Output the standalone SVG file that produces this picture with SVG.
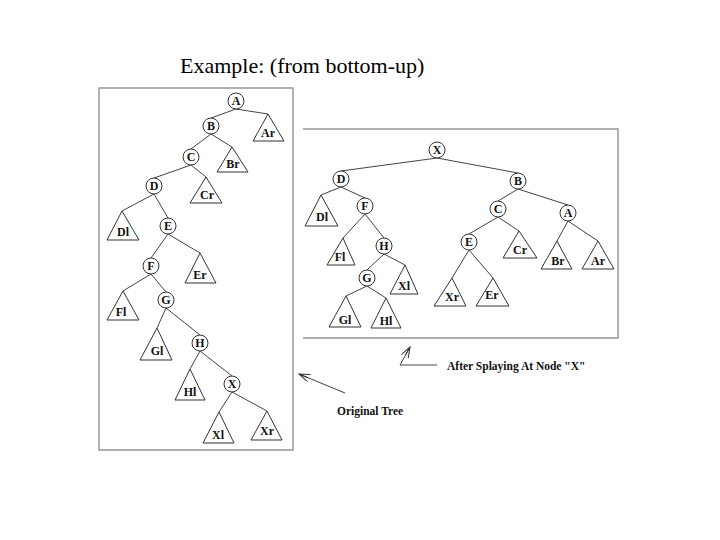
<svg xmlns="http://www.w3.org/2000/svg" width="720" height="540" viewBox="0 0 720 540">
<style>
.n circle{fill:#fff;stroke:#333;stroke-width:1}
.n text,.t text{font-family:"Liberation Serif",serif;font-weight:bold;font-size:12px;text-anchor:middle;fill:#111}
.t polygon{fill:#fff;stroke:#333;stroke-width:1}
#edges line{stroke:#444;stroke-width:1}
.frame{fill:none;stroke:#999;stroke-width:1.5}
.cap{font-family:"Liberation Serif",serif;font-weight:bold;font-size:11.5px;fill:#111}
</style>
<defs><marker id="ah" markerWidth="12" markerHeight="8" refX="11" refY="4" orient="auto" markerUnits="userSpaceOnUse"><path d="M0,0 L11,4 L0,8 M11,4 L2,4" fill="none" stroke="#333"/></marker></defs>
<rect width="720" height="540" fill="#fff"/>
<text x="180" y="73" style="font-family:'Liberation Serif','DejaVu Serif',serif;font-size:22px" fill="#000">Example: (from bottom-up)</text>
<rect class="frame" x="99" y="88" width="194" height="362"/>
<path class="frame" d="M303,129 H618 V338 H303"/>
<g id="edges">
<line x1="236" y1="109" x2="211" y2="118"/><line x1="236" y1="109" x2="268" y2="114"/>
<line x1="211" y1="134" x2="191" y2="149"/><line x1="211" y1="134" x2="232" y2="147"/>
<line x1="191" y1="165" x2="154" y2="178"/><line x1="191" y1="165" x2="206" y2="177"/>
<line x1="154" y1="194" x2="122" y2="211"/><line x1="154" y1="194" x2="168" y2="218"/>
<line x1="168" y1="234" x2="151" y2="258"/><line x1="168" y1="234" x2="200" y2="253"/>
<line x1="151" y1="274" x2="123" y2="291"/><line x1="151" y1="274" x2="166" y2="292"/>
<line x1="166" y1="308" x2="157" y2="328"/><line x1="166" y1="308" x2="200" y2="335"/>
<line x1="200" y1="351" x2="190" y2="369"/><line x1="200" y1="351" x2="232" y2="376"/>
<line x1="232" y1="392" x2="219" y2="412"/><line x1="232" y1="392" x2="267" y2="411"/>
<line x1="437" y1="158" x2="341" y2="171"/><line x1="437" y1="158" x2="518" y2="173"/>
<line x1="341" y1="187" x2="321" y2="195"/><line x1="341" y1="187" x2="365" y2="198"/>
<line x1="365" y1="214" x2="343" y2="238"/><line x1="365" y1="214" x2="384" y2="238"/>
<line x1="384" y1="254" x2="367" y2="270"/><line x1="384" y1="254" x2="405" y2="265"/>
<line x1="367" y1="286" x2="346" y2="296"/><line x1="367" y1="286" x2="386" y2="298"/>
<line x1="518" y1="189" x2="498" y2="201"/><line x1="518" y1="189" x2="568" y2="205"/>
<line x1="498" y1="217" x2="469" y2="234"/><line x1="498" y1="217" x2="519" y2="231"/>
<line x1="568" y1="221" x2="557" y2="241"/><line x1="568" y1="221" x2="598" y2="241"/>
<line x1="469" y1="250" x2="452" y2="278"/><line x1="469" y1="250" x2="493" y2="278"/>
<line x1="345" y1="393" x2="299" y2="374" marker-end="url(#ah)"/>
<line x1="437" y1="365" x2="400" y2="365"/><line x1="400" y1="365" x2="410" y2="347" marker-end="url(#ah)"/>
</g>
<g class="n" id="L-A"><circle cx="236" cy="101" r="8"/><text x="236" y="105">A</text></g>
<g class="n" id="L-B"><circle cx="211" cy="126" r="8"/><text x="211" y="130">B</text></g>
<g class="n" id="L-C"><circle cx="191" cy="157" r="8"/><text x="191" y="161">C</text></g>
<g class="n" id="L-D"><circle cx="154" cy="186" r="8"/><text x="154" y="190">D</text></g>
<g class="n" id="L-E"><circle cx="168" cy="226" r="8"/><text x="168" y="230">E</text></g>
<g class="n" id="L-F"><circle cx="151" cy="266" r="8"/><text x="151" y="270">F</text></g>
<g class="n" id="L-G"><circle cx="166" cy="300" r="8"/><text x="166" y="304">G</text></g>
<g class="n" id="L-H"><circle cx="200" cy="343" r="8"/><text x="200" y="347">H</text></g>
<g class="n" id="L-X"><circle cx="232" cy="384" r="8"/><text x="232" y="388">X</text></g>
<g class="t" id="L-Ar"><polygon points="268,114 253,141 284,141"/><text x="268" y="137">Ar</text></g>
<g class="t" id="L-Br"><polygon points="232,147 217,172 248,172"/><text x="233" y="168">Br</text></g>
<g class="t" id="L-Cr"><polygon points="206,177 190,203 222,203"/><text x="207" y="199">Cr</text></g>
<g class="t" id="L-Dl"><polygon points="122,211 107,240 139,240"/><text x="123" y="236">Dl</text></g>
<g class="t" id="L-Er"><polygon points="200,253 185,283 216,283"/><text x="200" y="279">Er</text></g>
<g class="t" id="L-Fl"><polygon points="123,291 107,320 139,320"/><text x="121" y="316">Fl</text></g>
<g class="t" id="L-Gl"><polygon points="157,328 140,360 172,360"/><text x="157" y="355">Gl</text></g>
<g class="t" id="L-Hl"><polygon points="190,369 175,400 205,400"/><text x="190" y="396">Hl</text></g>
<g class="t" id="L-Xl"><polygon points="219,412 203,443 234,443"/><text x="218" y="439">Xl</text></g>
<g class="t" id="L-Xr"><polygon points="267,411 251,440 282,440"/><text x="267" y="435">Xr</text></g>
<g class="n" id="R-X"><circle cx="437" cy="150" r="8"/><text x="437" y="154">X</text></g>
<g class="n" id="R-D"><circle cx="341" cy="179" r="8"/><text x="341" y="183">D</text></g>
<g class="n" id="R-B"><circle cx="518" cy="181" r="8"/><text x="518" y="185">B</text></g>
<g class="n" id="R-F"><circle cx="365" cy="206" r="8"/><text x="365" y="210">F</text></g>
<g class="n" id="R-H"><circle cx="384" cy="246" r="8"/><text x="384" y="250">H</text></g>
<g class="n" id="R-G"><circle cx="367" cy="278" r="8"/><text x="367" y="282">G</text></g>
<g class="n" id="R-C"><circle cx="498" cy="209" r="8"/><text x="498" y="213">C</text></g>
<g class="n" id="R-A"><circle cx="568" cy="213" r="8"/><text x="568" y="217">A</text></g>
<g class="n" id="R-E"><circle cx="469" cy="242" r="8"/><text x="469" y="246">E</text></g>
<g class="t" id="R-Dl"><polygon points="321,195 305,226 338,226"/><text x="322" y="221">Dl</text></g>
<g class="t" id="R-Fl"><polygon points="343,238 327,265 355,265"/><text x="340" y="261">Fl</text></g>
<g class="t" id="R-Xl"><polygon points="405,265 390,294 418,294"/><text x="404" y="290">Xl</text></g>
<g class="t" id="R-Gl"><polygon points="346,296 329,327 361,327"/><text x="345" y="324">Gl</text></g>
<g class="t" id="R-Hl"><polygon points="386,298 371,328 401,328"/><text x="386" y="325">Hl</text></g>
<g class="t" id="R-Cr"><polygon points="519,231 503,258 537,258"/><text x="520" y="254">Cr</text></g>
<g class="t" id="R-Br"><polygon points="557,241 541,269 572,269"/><text x="558" y="265">Br</text></g>
<g class="t" id="R-Ar"><polygon points="598,241 582,269 614,269"/><text x="598" y="265">Ar</text></g>
<g class="t" id="R-Xr"><polygon points="452,278 434,306 466,306"/><text x="452" y="301">Xr</text></g>
<g class="t" id="R-Er"><polygon points="493,278 476,306 509,306"/><text x="492" y="299">Er</text></g>
<text class="cap" x="337" y="415">Original Tree</text>
<text class="cap" x="447" y="370">After Splaying At Node "X"</text>
</svg>
